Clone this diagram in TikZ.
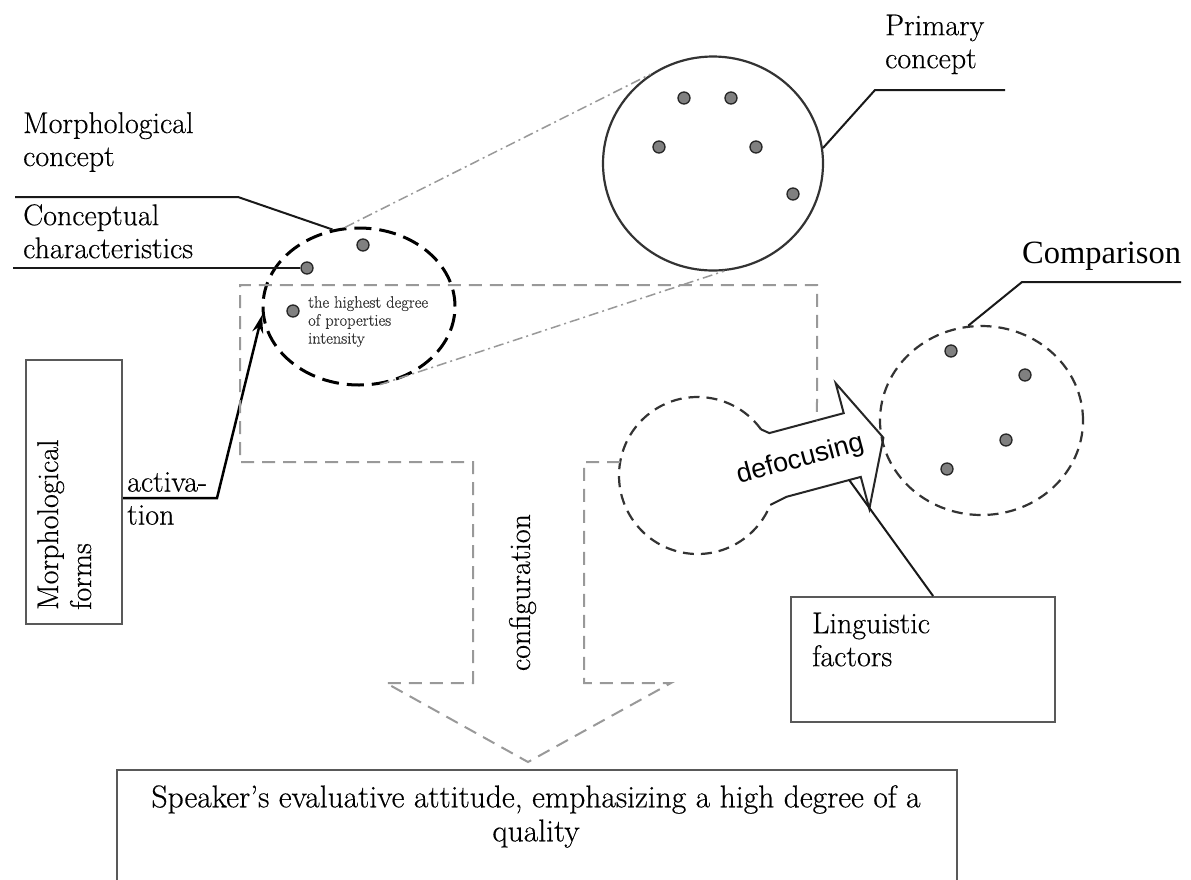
\documentclass[tikz,border=0pt]{standalone}
\usepackage{fontspec}
\setmainfont{Latin Modern Roman}[FakeBold=0.4]
\newfontfamily\arialish{Liberation Sans}
\newfontfamily\timesish{Liberation Serif}
\usetikzlibrary{arrows.meta,calc,shapes.geometric}
\begin{document}
\begin{tikzpicture}[x=1pt,y=-1pt,
  txt/.style={inner sep=0pt, align=left, font=\fontsize{30}{33}\selectfont},
  lead/.style={draw=black!90, line width=2pt},
  framebox/.style={draw=black!65, line width=2.2pt, inner sep=0pt, rectangle},
  dot/.style={circle, draw=black!85, fill=black!50, line width=1.3pt, minimum size=12pt, inner sep=0pt},
  blob/.style={ellipse, inner sep=0pt},
  bigdash/.style={draw=black, line width=3pt, dash pattern=on 17pt off 8pt},
  smalldash/.style={draw=black!80, line width=2.2pt, dash pattern=on 11pt off 7pt},
  greydash/.style={draw=black!40, line width=2pt, dash pattern=on 13pt off 8pt},
  projline/.style={draw=black!40, line width=1.5pt, dash pattern=on 10pt off 4pt on 2pt off 4pt},
  arrowline/.style={draw=black!85, line width=2pt, line join=miter},
]
\useasboundingbox (0,0) rectangle (1191,879);
\fill[white] (0,0) rectangle (1191,879);

% concept shapes
\node[blob, draw=black!80, line width=2.2pt, minimum width=220pt, minimum height=214pt] (primary) at (713,163.5) {};
\node[blob, bigdash, minimum width=192pt, minimum height=157pt] (morph) at (359,306.5) {};
\node[blob, smalldash, minimum width=203pt, minimum height=189pt] (comp) at (981.5,420.5) {};

% characteristics (dots)
\node[dot] (pd1) at (684,98) {};
\node[dot] (pd2) at (731,98) {};
\node[dot] (pd3) at (659,147) {};
\node[dot] (pd4) at (756,147) {};
\node[dot] (pd5) at (793,194) {};
\node[dot] (md1) at (363,245) {};
\node[dot] (md2) at (307,268) {};
\node[dot] (md3) at (293,311) {};
\node[dot] (cd1) at (951,351) {};
\node[dot] (cd2) at (1025,375) {};
\node[dot] (cd3) at (1006,440) {};
\node[dot] (cd4) at (947,469) {};

% projection from the morphological concept to the primary concept
\draw[projline] (morph.100) -- (primary.125);
\draw[projline] (morph.-75) -- (primary.-84);

% labels with leader lines
\coordinate (pcEnd) at (1005,90);
\coordinate (pcKnee) at (875,90);
\draw[lead] (pcEnd) -- (pcKnee) -- (primary.8);
\node[txt, anchor=north west] (primlbl) at (885,14.5) {Primary\\concept};

\coordinate (mcEnd) at (15,197);
\coordinate (mcKnee) at (238,197);
\draw[lead] (mcEnd) -- (mcKnee) -- (morph.109);
\node[txt, anchor=north west] (morphlbl) at (23,112) {Morphological\\concept};

\coordinate (ccEnd) at (13,268);
\draw[lead] (ccEnd) -- (md2.west);
\node[txt, anchor=north west] (charlbl) at (23,204) {Conceptual\\characteristics};

\coordinate (cmpEnd) at (1181,282);
\coordinate (cmpKnee) at (1022,282);
\draw[lead] (cmpEnd) -- (cmpKnee) -- (comp.98);
\node[inner sep=0pt, anchor=base west, font=\timesish\fontsize{32.5}{36}\selectfont] (complbl) at (1022,263) {Comparison};

\node[txt, anchor=north west, font=\fontsize{16.5}{18}\selectfont, text=black!80] (hdeg) at (308,296) {the highest degree\\of properties\\intensity};

% morphological forms and activation
\node[framebox, anchor=north west, minimum width=96pt, minimum height=264pt] (forms) at (25,359) {};
\node[txt, rotate=90, anchor=north west] (formslbl) at (37,610) {Morphological\\forms};
\coordinate (actKnee) at (217,498);
\draw[line width=2.5pt, -{Stealth[length=18pt,width=11pt]}] (forms.east |- actKnee) -- (actKnee) -- (morph.185);
\node[txt, anchor=north west] (actlbl) at (127,472) {activa-\\tion};

% defocusing: comparison blob with its arrow
\coordinate (dbc) at (697.5,475.5);
\draw[smalldash] (dbc) ++(36:78.5pt) coordinate (arcTop) arc[start angle=36, end angle=338, radius=78.5pt] coordinate (arcBot);
\begin{scope}[shift={(698,476)}, rotate=15]
  \coordinate (s1) at (80,-23);
  \coordinate (s2) at (157,-23);
  \coordinate (s3) at (157,-54);
  \coordinate (tip) at (189,11);
  \coordinate (s5) at (157,76);
  \coordinate (s6) at (157,43);
  \coordinate (s7) at (80,43);
  \coordinate (shaftlow) at (145,43);
  \draw[arrowline] (arcTop) -- (s1) -- (s2) -- (s3) -- (tip) -- (s5) -- (s6) -- (s7) -- (arcBot);
  \node[rotate=15, inner sep=0pt, font=\arialish\fontsize{27}{30}\selectfont] (defoc) at (103,11) {defocusing};
\end{scope}

% configuration frame and arrow
\coordinate (cfgJoin) at (620.2,462);
\coordinate (cfgEnd) at (intersection of 817,280--817,480 and s1--s2);
\draw[greydash] (cfgJoin) -- (584,462) -- (584,683) -- (671,683) -- (528,762) -- (386,683)
  -- (473,683) -- (473,462) -- (240,462) -- (240,285) -- (817,285) -- (cfgEnd);
\node[txt, rotate=90, anchor=center] (cfglbl) at (522.5,592.5) {configuration};

% linguistic factors
\node[framebox, anchor=north west, minimum width=264pt, minimum height=125pt] (ling) at (790,596) {};
\node[txt, anchor=north west] (linglbl) at (812,612.5) {Linguistic\\factors};
\draw[lead] ([xshift=10pt]ling.north) -- (shaftlow);

% speaker's attitude
\node[framebox, anchor=north west, minimum width=840pt, minimum height=140pt] (speaker) at (116,769) {};
\node[txt, align=center, anchor=north, font=\fontsize{31.5}{34}\selectfont] (speakerlbl) at (536,785) {Speaker’s evaluative attitude, emphasizing a high degree of a\\quality};
\end{tikzpicture}
\end{document}
